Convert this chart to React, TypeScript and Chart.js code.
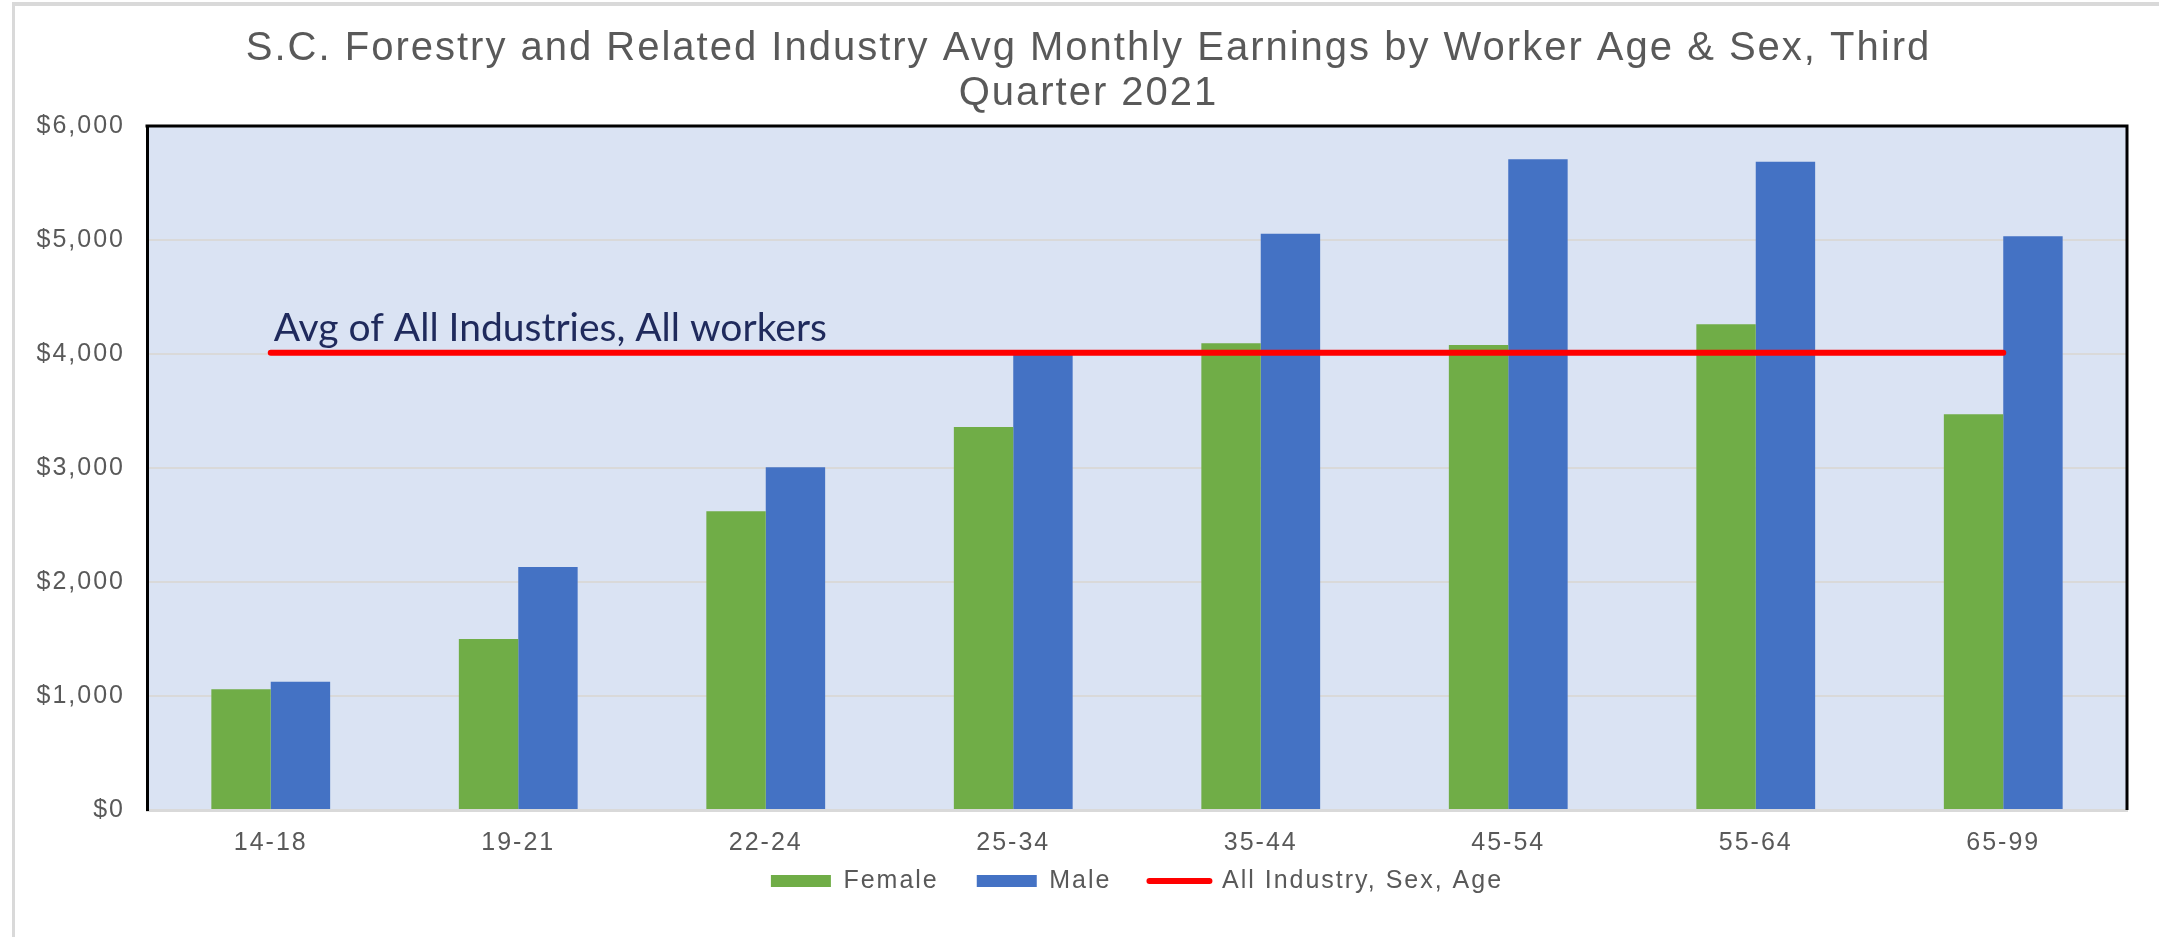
import React, { useEffect, useRef } from 'react';
import { Chart, registerables } from 'chart.js';

Chart.register(...registerables);

const categories = ['14-18', '19-21', '22-24', '25-34', '35-44', '45-54', '55-64', '65-99'];
const femaleValues = [1059, 1500, 2620, 3360, 4094, 4079, 4260, 3471];
const maleValues = [1125, 2132, 3006, 4020, 5055, 5708, 5687, 5032];
const allIndustryValues = [4012, 4012, 4012, 4012, 4012, 4012, 4012, 4012];
const seriesNames = ['Female', 'Male', 'All Industry, Sex, Age'];
const titleLines = [
  'S.C. Forestry and Related Industry Avg Monthly Earnings by Worker Age & Sex, Third',
  'Quarter 2021',
];
const annotationText = 'Avg of All Industries, All workers';
const yMin = 0;
const yMax = 6000;
const yStep = 1000;

const GRAY_TEXT = '#595959';
const FONT = "'Liberation Sans', Arial, sans-serif";
const SPACING = '2px';
const LEGEND_LIFT = 23.5;

const framePlugin = {
  id: 'frame',
  beforeLayout(chart: any) {
    chart.ctx.letterSpacing = SPACING;
  },
  afterLayout(chart: any) {
    const lg = chart.legend;
    if (lg) {
      lg.top -= LEGEND_LIFT;
      lg.bottom -= LEGEND_LIFT;
    }
  },
  beforeDraw(chart: any) {
    const { ctx, chartArea: a, width, height } = chart;
    ctx.letterSpacing = SPACING;
    ctx.save();
    ctx.fillStyle = '#ffffff';
    ctx.fillRect(0, 0, width, height);
    ctx.fillStyle = '#D9D9D9';
    ctx.fillRect(12, 2, width - 12, 4);
    ctx.fillRect(12, 2, 3, height - 2);
    ctx.fillStyle = '#DAE3F3';
    ctx.fillRect(a.left, a.top, a.right - a.left, a.bottom - a.top);
    ctx.restore();
  },
  afterDatasetsDraw(chart: any) {
    const { ctx, scales } = chart;
    const x = scales.x.getPixelForValue(0) + 3;
    const y = scales.y.getPixelForValue(allIndustryValues[0]) - 12;
    ctx.save();
    ctx.letterSpacing = '0px';
    ctx.font = "39px Lato, 'Liberation Sans', sans-serif";
    ctx.fillStyle = '#1F2A5C';
    ctx.textAlign = 'left';
    ctx.textBaseline = 'alphabetic';
    ctx.fillText(annotationText, x, y);
    ctx.restore();
  },
  afterDraw(chart: any) {
    const { ctx, chartArea: a } = chart;
    ctx.save();
    ctx.strokeStyle = '#000000';
    ctx.lineWidth = 3;
    ctx.beginPath();
    ctx.moveTo(a.left - 1.5, a.top);
    ctx.lineTo(a.right, a.top);
    ctx.lineTo(a.right, a.bottom);
    ctx.stroke();
    ctx.restore();
  },
};

export default function App() {
  const canvasRef = useRef<HTMLCanvasElement | null>(null);

  useEffect(() => {
    const canvas = canvasRef.current;
    if (!canvas) return;
    const chart = new Chart(canvas, {
      type: 'bar',
      data: {
        labels: categories,
        datasets: [
          {
            type: 'bar',
            label: seriesNames[0],
            data: femaleValues,
            backgroundColor: '#70AD47',
            borderWidth: 0,
            categoryPercentage: 0.48,
            barPercentage: 1,
            order: 1,
          },
          {
            type: 'bar',
            label: seriesNames[1],
            data: maleValues,
            backgroundColor: '#4472C4',
            borderWidth: 0,
            categoryPercentage: 0.48,
            barPercentage: 1,
            order: 1,
          },
          {
            type: 'line',
            label: seriesNames[2],
            data: allIndustryValues,
            borderColor: '#FF0000',
            backgroundColor: '#FF0000',
            borderWidth: 6,
            borderCapStyle: 'round',
            pointRadius: 0,
            fill: false,
            order: 0,
          } as any,
        ],
      },
      options: {
        responsive: false,
        animation: false,
        layout: { padding: { left: 30, right: 12, top: 0, bottom: 10 } },
        scales: {
          x: {
            grid: { drawOnChartArea: false, drawTicks: false },
            border: { display: true, color: '#D9D9D9', width: 3 },
            ticks: { color: GRAY_TEXT, font: { family: FONT, size: 25 }, padding: 18 },
            afterFit: (s: any) => {
              s.height = 44;
            },
          },
          y: {
            min: yMin,
            max: yMax,
            grid: { color: '#D9D9D9', lineWidth: 2, drawTicks: false },
            border: { display: true, color: '#000000', width: 3 },
            ticks: {
              stepSize: yStep,
              color: GRAY_TEXT,
              font: { family: FONT, size: 25 },
              padding: 22,
              callback: (v: any) => '$' + Number(v).toLocaleString('en-US'),
            },
            afterFit: (s: any) => {
              s.width = 117;
            },
          },
          y2: {
            type: 'linear',
            position: 'right',
            display: true,
            grid: { display: false },
            border: { display: false },
            ticks: { display: false },
            afterFit: (s: any) => {
              s.width = 20;
            },
          },
        },
        plugins: {
          title: {
            display: true,
            text: titleLines,
            color: GRAY_TEXT,
            font: { family: FONT, size: 40, weight: 'normal', lineHeight: 1.125 },
            padding: { top: 26, bottom: 10 },
          },
          legend: {
            display: true,
            position: 'bottom',
            fullSize: false,
            labels: {
              color: GRAY_TEXT,
              font: { family: FONT, size: 25 },
              usePointStyle: true,
              pointStyleWidth: 60,
              boxHeight: 12,
              padding: 38,
              generateLabels: (c: any) => {
                const items = Chart.defaults.plugins.legend.labels.generateLabels(c);
                return items
                  .sort((a: any, b: any) => a.datasetIndex - b.datasetIndex)
                  .map((it: any) => ({
                    ...it,
                    pointStyle: it.datasetIndex === 2 ? 'line' : 'rect',
                    lineWidth: it.datasetIndex === 2 ? 6 : 0,
                    lineCap: 'round',
                  }));
              },
            },
          },
          tooltip: { enabled: false },
        },
      },
      plugins: [framePlugin],
    });
    return () => chart.destroy();
  }, []);

  return (
    <div style={{ position: 'fixed', left: 0, top: 0, width: 2159, height: 937, background: '#fff' }}>
      <canvas ref={canvasRef} width={2159} height={937} style={{ width: 2159, height: 937, display: 'block' }} />
    </div>
  );
}
